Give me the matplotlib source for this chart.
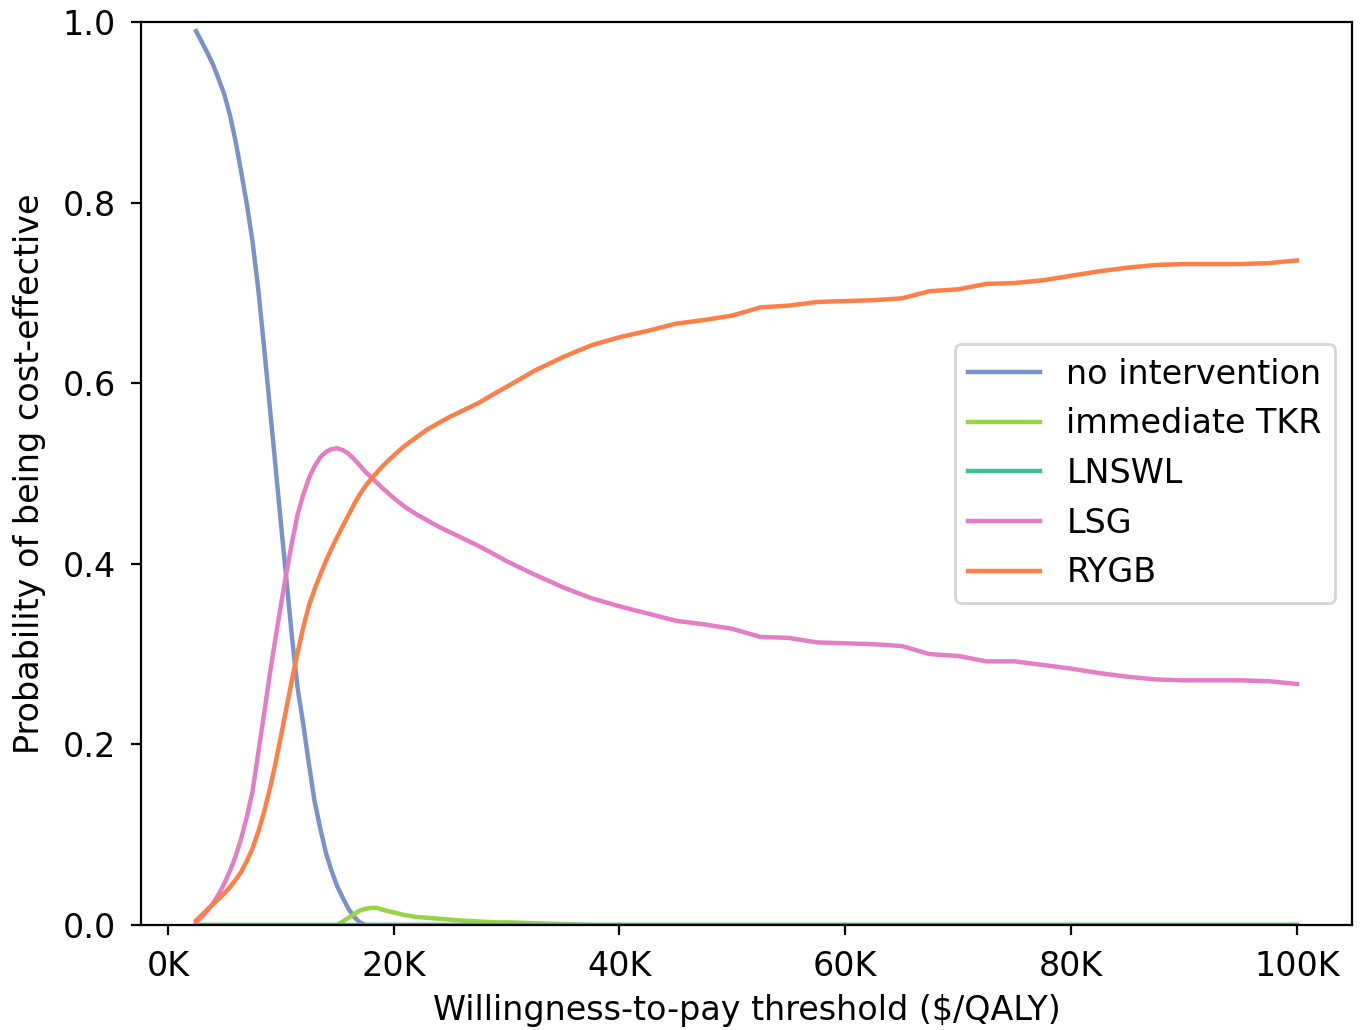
import numpy as np
import matplotlib
matplotlib.use("Agg")
import matplotlib.pyplot as plt
from matplotlib.ticker import FuncFormatter

# willingness-to-pay thresholds ($K/QALY)
wtp = ([2.5 + 0.5 * i for i in range(34)]            # 2.5 .. 19
       + [20, 21, 22, 23, 24, 25, 26, 27.5, 29, 30]
       + [32.5 + 2.5 * i for i in range(28)])         # 32.5 .. 100

no_intervention = ([0.99, 0.978, 0.966, 0.953, 0.937, 0.92, 0.897, 0.868, 0.834,
                    0.798, 0.757, 0.705, 0.643, 0.578, 0.513, 0.447, 0.383,
                    0.318, 0.262, 0.222, 0.178, 0.137, 0.107, 0.08, 0.06,
                    0.043, 0.03, 0.018, 0.009, 0.003, 0.0]
                   + [0.0] * 41)

immediate_tkr = ([0.0] * 26
                 + [0.004, 0.008, 0.012, 0.016, 0.018, 0.019, 0.019, 0.017,
                    0.014, 0.011, 0.009, 0.008, 0.007, 0.006, 0.005, 0.004,
                    0.003, 0.003, 0.002, 0.001]
                 + [0.0] * 26)

lnswl = [0.0] * 72

lsg = [0.003, 0.009, 0.016, 0.024, 0.034, 0.046, 0.06, 0.076, 0.096, 0.12,
       0.148, 0.19, 0.232, 0.275, 0.315, 0.353, 0.39, 0.424, 0.455, 0.477,
       0.495, 0.508, 0.518, 0.524, 0.527, 0.528, 0.526, 0.522, 0.516, 0.509,
       0.502, 0.496, 0.49, 0.484,
       0.473, 0.463, 0.455, 0.448, 0.441, 0.435, 0.429, 0.42, 0.41, 0.403,
       0.388, 0.374, 0.362, 0.353, 0.345, 0.337, 0.333, 0.328, 0.319, 0.318,
       0.313, 0.312, 0.311, 0.309, 0.3, 0.298, 0.292, 0.292, 0.288, 0.284,
       0.279, 0.275, 0.272, 0.271, 0.271, 0.271, 0.27, 0.267]

rygb = [0.005, 0.011, 0.017, 0.023, 0.029, 0.035, 0.042, 0.05, 0.059, 0.071,
        0.085, 0.103, 0.124, 0.149, 0.177, 0.208, 0.24, 0.272, 0.302, 0.33,
        0.354, 0.372, 0.388, 0.403, 0.417, 0.43, 0.442, 0.454, 0.466, 0.477,
        0.486, 0.494, 0.501, 0.508,
        0.52, 0.531, 0.54, 0.549, 0.556, 0.563, 0.569, 0.578, 0.589, 0.596,
        0.614, 0.629, 0.642, 0.651, 0.658, 0.666, 0.67, 0.675, 0.684, 0.686,
        0.69, 0.691, 0.692, 0.694, 0.702, 0.704, 0.71, 0.711, 0.714, 0.719,
        0.724, 0.728, 0.731, 0.732, 0.732, 0.732, 0.733, 0.736]

series = [
    ("no intervention", no_intervention, "#7a92cb"),
    ("immediate TKR", immediate_tkr, "#96d345"),
    ("LNSWL", lnswl, "#40bf96"),
    ("LSG", lsg, "#e47cc6"),
    ("RYGB", rygb, "#ff7f47"),
]

x = np.array(wtp) * 1000

fig = plt.figure(figsize=(6.8, 5.15), dpi=200)
ax = fig.add_axes([0.1037, 0.1019, 0.8903, 0.8767])

for name, vals, col in series:
    ax.plot(x, vals, color=col, lw=1.6, label=name)

ax.set_ylim(0, 1.0)
ax.set_xticks([0, 20000, 40000, 60000, 80000, 100000])
ax.xaxis.set_major_formatter(FuncFormatter(lambda v, p: f"{int(v / 1000)}K"))
ax.tick_params(labelsize=12, pad=5.5)

ax.set_xlabel("Willingness-to-pay threshold ($/QALY)", fontsize=12, labelpad=4)
ax.set_ylabel("Probability of being cost-effective", fontsize=12, labelpad=6)

ax.legend(loc="center right", fontsize=12, handlelength=2.15)

fig.savefig("out.png", dpi=200)
